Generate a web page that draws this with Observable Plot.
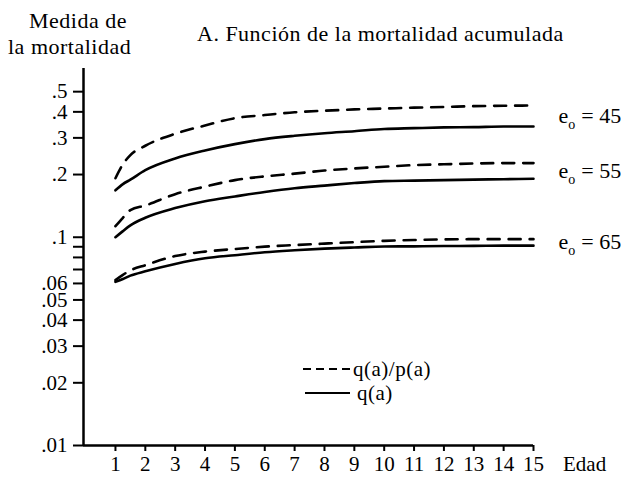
<!DOCTYPE html>
<html>
<head>
<meta charset="utf-8">
<script src="https://cdn.jsdelivr.net/npm/d3@7"></script>
<script src="https://cdn.jsdelivr.net/npm/@observablehq/plot@0.6"></script>
<style>
  html, body { margin: 0; padding: 0; background: #fff; }
  #chart { width: 637px; height: 479px; }
</style>
</head>
<body>
<div id="chart"></div>
<script>
// Edad (años cumplidos) en que se evalúan las funciones
const edades = [1, 1.25, 1.5, 2, 3, 4, 5, 6, 7, 8, 9, 10, 11, 12, 13, 14, 15];

// q(a)/p(a) y q(a) para cada esperanza de vida al nacer
const qp45 = [0.192, 0.224, 0.248, 0.275, 0.314, 0.344, 0.373, 0.386, 0.398, 0.405, 0.411, 0.415, 0.419, 0.422, 0.426, 0.428, 0.429];
const q45  = [0.168, 0.180, 0.189, 0.210, 0.239, 0.261, 0.280, 0.296, 0.307, 0.316, 0.323, 0.331, 0.334, 0.337, 0.338, 0.340, 0.340];
const qp55 = [0.113, 0.124, 0.135, 0.142, 0.161, 0.175, 0.188, 0.196, 0.202, 0.209, 0.214, 0.218, 0.222, 0.224, 0.226, 0.227, 0.227];
const q55  = [0.100, 0.107, 0.114, 0.124, 0.138, 0.149, 0.157, 0.165, 0.172, 0.177, 0.182, 0.186, 0.187, 0.188, 0.189, 0.190, 0.191];
const qp65 = [0.0623, 0.0660, 0.0693, 0.0734, 0.0812, 0.0853, 0.0878, 0.0901, 0.0917, 0.0932, 0.0947, 0.0961, 0.0970, 0.0976, 0.0979, 0.0979, 0.0979];
const q65  = [0.0611, 0.0630, 0.0654, 0.0686, 0.0744, 0.0792, 0.0820, 0.0847, 0.0866, 0.0882, 0.0893, 0.0903, 0.0904, 0.0907, 0.0909, 0.0911, 0.0911];

const esperanzas = [45, 55, 65];

// Marcas de los ejes
const xTicks = [1, 2, 3, 4, 5, 6, 7, 8, 9, 10, 11, 12, 13, 14, 15];
const yTicks = [0.5, 0.4, 0.3, 0.2, 0.1, 0.09, 0.08, 0.07, 0.06, 0.05, 0.04, 0.03, 0.02, 0.01];
const yLabeled = [0.5, 0.4, 0.3, 0.2, 0.1, 0.08, 0.06, 0.05, 0.04, 0.03, 0.02, 0.01];

const xDomain = [-0.07, 15];
const yDomain = [0.01, 0.646];

const series = [
  {e0: 45, tipo: "qp", valores: qp45}, {e0: 45, tipo: "q", valores: q45},
  {e0: 55, tipo: "qp", valores: qp55}, {e0: 55, tipo: "q", valores: q55},
  {e0: 65, tipo: "qp", valores: qp65}, {e0: 65, tipo: "q", valores: q65}
];
const filas = series.flatMap(s => edades.map((a, i) => ({edad: a, valor: s.valores[i], e0: s.e0, tipo: s.tipo})));

// Etiqueta de cada par de curvas, entre sus valores finales
const etiquetas = esperanzas.map(e => {
  const last = edades.length - 1;
  const a = series.find(s => s.e0 === e && s.tipo === "qp").valores[last];
  const b = series.find(s => s.e0 === e && s.tipo === "q").valores[last];
  return {e0: e, edad: edades[last], valor: Math.sqrt(a * b)};
});

const serif = "'Liberation Serif', 'Times New Roman', serif";

const chart = Plot.plot({
  width: 637,
  height: 479,
  marginLeft: 83,
  marginRight: 104,
  marginTop: 68,
  marginBottom: 34,
  style: {fontFamily: serif, fontSize: "21px", color: "#000", background: "#fff"},
  x: {domain: xDomain, ticks: xTicks, tickSize: 6, tickPadding: 5, tickFormat: d => String(d), label: null},
  y: {
    type: "log", domain: yDomain, ticks: yTicks, tickSize: 10, tickPadding: 6,
    tickFormat: d => yLabeled.includes(d) ? String(d).replace(/^0/, "") : "", label: null
  },
  marks: [
    Plot.ruleX([xDomain[0]], {stroke: "#000", strokeWidth: 2.5}),
    Plot.ruleY([yDomain[0]], {stroke: "#000", strokeWidth: 2.5}),
    Plot.line(filas.filter(d => d.tipo === "qp"), {
      x: "edad", y: "valor", z: "e0", curve: "monotone-x",
      stroke: "#000", strokeWidth: 2.6, strokeDasharray: "12,9"
    }),
    Plot.line(filas.filter(d => d.tipo === "q"), {
      x: "edad", y: "valor", z: "e0", curve: "monotone-x",
      stroke: "#000", strokeWidth: 2.6
    }),
    Plot.text(etiquetas, {
      x: "edad", y: "valor", text: d => `= ${d.e0}`, dx: 25,
      textAnchor: "start", fontSize: 22, fill: "#000"
    })
  ]
});

document.getElementById("chart").appendChild(chart);

const svg = d3.select(chart);
const xs = chart.scale("x");
const ys = chart.scale("y");

// Trazo de las marcas de los ejes
svg.selectAll('g[aria-label^="x-axis"] line, g[aria-label^="y-axis"] line, g[aria-label="x-axis tick"] path, g[aria-label="y-axis tick"] path')
  .attr("stroke-width", 2);

// e₀ con subíndice
svg.selectAll("text")
  .filter(function () { return /^= \d+$/.test(this.textContent); })
  .each(function () {
    const resto = this.textContent;
    const t = d3.select(this).text(null);
    t.append("tspan").text("e");
    t.append("tspan").attr("font-size", 14).attr("dy", 6).text("o");
    t.append("tspan").attr("dy", -6).attr("dx", 6).text(resto);
  });

const g = svg.append("g")
  .attr("font-family", serif)
  .attr("fill", "#000")
  .attr("text-anchor", "start")
  .attr("letter-spacing", "0.5px");

// Títulos
g.append("text").attr("x", 29).attr("y", 28).attr("font-size", 22).text("Medida de");
g.append("text").attr("x", 8).attr("y", 54).attr("font-size", 22).text("la mortalidad");
g.append("text").attr("x", 197).attr("y", 41).attr("font-size", 22).text("A. Función de la mortalidad acumulada");

// Título del eje horizontal
g.append("text")
  .attr("x", xs.apply(15) + 30)
  .attr("y", ys.apply(yDomain[0]) + 11)
  .attr("dy", "0.71em")
  .attr("font-size", 21)
  .attr("letter-spacing", "0px")
  .text("Edad");

// Leyenda
const leyenda = svg.append("g")
  .attr("font-family", serif)
  .attr("font-size", 21)
  .attr("fill", "#000")
  .attr("text-anchor", "start")
  .attr("letter-spacing", "0.5px");
leyenda.append("line").attr("x1", 303).attr("x2", 350).attr("y1", 369).attr("y2", 369)
  .attr("stroke", "#000").attr("stroke-width", 2.2).attr("stroke-dasharray", "8,5");
leyenda.append("text").attr("x", 353).attr("y", 369).attr("dy", "0.32em").text("q(a)/p(a)");
leyenda.append("line").attr("x1", 305).attr("x2", 350).attr("y1", 393).attr("y2", 393)
  .attr("stroke", "#000").attr("stroke-width", 2.2);
leyenda.append("text").attr("x", 357).attr("y", 393).attr("dy", "0.32em").text("q(a)");
</script>
</body>
</html>
